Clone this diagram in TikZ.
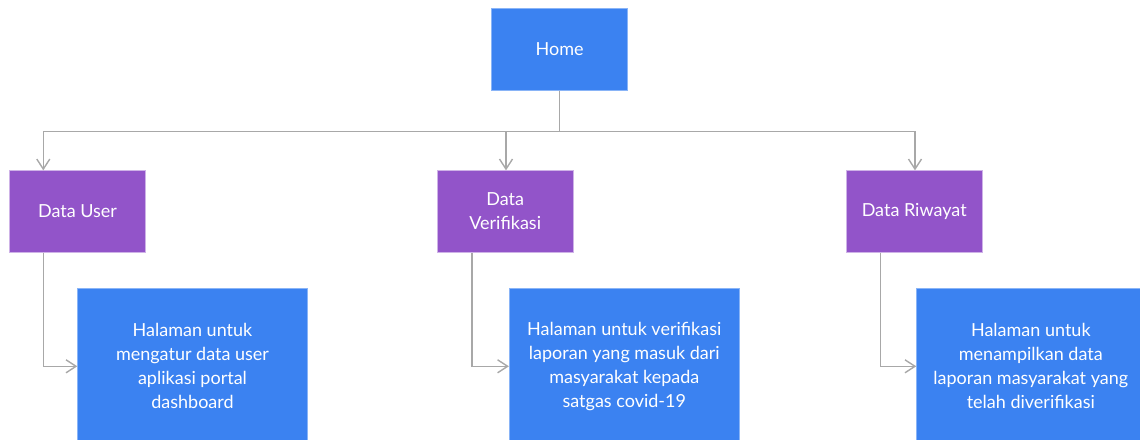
\documentclass[tikz,border=0pt]{standalone}
\usepackage{fontspec}
\setmainfont{Lato}
\usetikzlibrary{arrows.meta}

\definecolor{homeblue}{HTML}{3B82F1}
\definecolor{menupurple}{HTML}{9254C9}
\definecolor{linkgray}{HTML}{A8A8A8}

\tikzset{
	page/.style={draw=homeblue!60!white, line width=0.8pt, fill=homeblue, text=white, align=center, inner sep=0pt},
	menu/.style={draw=menupurple!45!white, line width=0.8pt, fill=menupurple, text=white, align=center, inner sep=0pt, minimum width=136pt, minimum height=81.5pt},
	link/.style={draw=linkgray, line width=1.4pt, -{Straight Barb[length=10pt, width=13pt, line width=1.4pt]}}
}

\begin{document}
\begin{tikzpicture}[x=1pt, y=-1pt, font=\fontsize{18}{24}\selectfont]
		\useasboundingbox (0, 0) rectangle (1140, 439);

		\node [page, minimum width=136pt, minimum height=81.6pt] (home) at (559.7, 49.5) {Home};

		\node [menu] (user) at (77.5, 211.5) {Data User};
		\node [menu] (verif) at (505.2, 211.5) {Data\\Verifikasi};
		\node [menu] (riwayat) at (914.2, 211.5) {Data Riwayat};

		\begin{scope}
			\clip (0, 0) rectangle (1140, 439);
			\node [page, minimum width=229.6pt, minimum height=156pt] (descuser) at (192.5, 366.3) {Halaman untuk\\mengatur data user\\aplikasi portal\\dashboard};
			\node [page, minimum width=230pt, minimum height=156pt] (descverif) at (624.3, 366.3) {Halaman untuk verifikasi\\laporan yang masuk dari\\masyarakat kepada\\satgas covid-19};
			\node [page, minimum width=228.3pt, minimum height=156pt] (descriwayat) at (1030.8, 366.3) {Halaman untuk\\menampilkan data\\laporan masyarakat yang\\telah diverifikasi};
		\end{scope}

		\draw [link] (home.south) -- ++(0, 40.5) -| ([xshift=-34.2pt]user.north);
		\draw [link] (home.south) -- ++(0, 40.5) -| ([xshift=0.8pt]verif.north);
		\draw [link] (home.south) -- ++(0, 40.5) -| ([xshift=0.8pt]riwayat.north);

		\draw [link] ([xshift=-33.8pt]user.south) |- (descuser.west);
		\draw [link] ([xshift=-33.2pt]verif.south) |- (descverif.west);
		\draw [link] ([xshift=-33.9pt]riwayat.south) |- (descriwayat.west);
	\end{tikzpicture}
\end{document}
